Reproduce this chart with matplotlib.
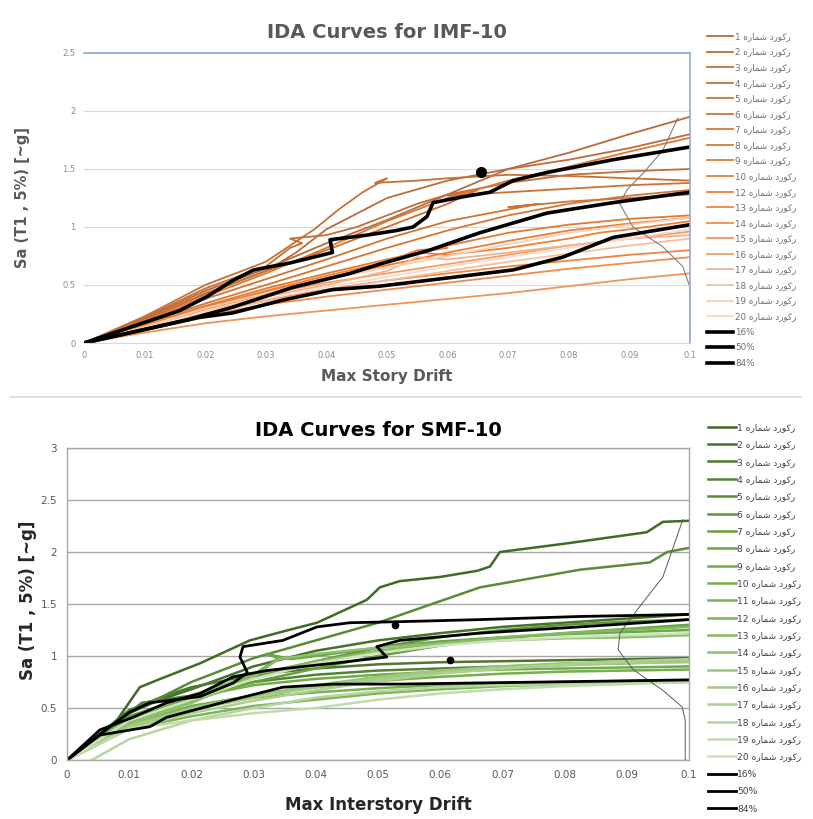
import matplotlib
matplotlib.use("Agg")
import matplotlib.pyplot as plt
from matplotlib.lines import Line2D

# Persian legend text "رکورد شماره" written as shaped glyphs in visual order
fa = "\uFEE9\uFEAD\uFE8E\uFEE4\uFEB7 \uFEA9\uFEAD\uFEEE\uFB90\uFEAD"

# ---------------- IMF-10 (top) ----------------
imf_ids = [1, 2, 3, 4, 5, 6, 7, 8, 9, 10, 12, 13, 14, 15, 16, 17, 18, 19, 20]
imf_colors = ["#B9693A", "#BD6B38", "#C26E37", "#C77035", "#CC7234", "#D17433", "#D67632",
              "#DB7831", "#E07A30", "#ED7D31", "#EE8036", "#EF843C", "#F08C48", "#F19456",
              "#F29E66", "#F4B28A", "#F6C0A0", "#F8CDB5", "#F9D9C8"]
xs = [0, 0.01, 0.02, 0.03, 0.04, 0.05, 0.06, 0.07, 0.08, 0.09, 0.1]
imf_drift = [
    xs,
    [0, 0.01, 0.02, 0.03, 0.035, 0.04, 0.05, 0.06, 0.07, 0.08, 0.09, 0.1],
    [0, 0.01, 0.02, 0.03, 0.034, 0.036, 0.034, 0.04, 0.045, 0.05, 0.055, 0.06, 0.07, 0.08, 0.09, 0.1],
    [0, 0.01, 0.02, 0.03, 0.038, 0.042, 0.046, 0.05, 0.048, 0.055, 0.06, 0.07, 0.08, 0.09, 0.1],
    [0, 0.01, 0.02, 0.03, 0.04, 0.05, 0.06, 0.065, 0.06, 0.07, 0.08, 0.09, 0.1],
    [0, 0.01, 0.02, 0.03, 0.04, 0.05, 0.06, 0.07, 0.075, 0.07, 0.08, 0.09, 0.1],
    xs, xs, xs, xs,
    [0, 0.01, 0.02, 0.03, 0.04, 0.05, 0.055, 0.06, 0.055, 0.06, 0.07, 0.08, 0.085, 0.09, 0.1],
    xs, xs, xs, xs,
    [0, 0.01, 0.02, 0.03, 0.04, 0.05, 0.055, 0.06, 0.07, 0.08, 0.09, 0.1],
    xs, xs, xs,
]
imf_sa = [
    [0, 0.21, 0.45, 0.64, 0.86, 1.06, 1.28, 1.5, 1.64, 1.8, 1.95],
    [0, 0.2, 0.42, 0.62, 0.78, 0.98, 1.25, 1.4, 1.5, 1.58, 1.68, 1.8],
    [0, 0.22, 0.47, 0.66, 0.82, 0.86, 0.9, 0.93, 1.0, 1.1, 1.2, 1.28, 1.38, 1.45, 1.48, 1.5],
    [0, 0.23, 0.5, 0.7, 0.98, 1.15, 1.3, 1.42, 1.38, 1.4, 1.42, 1.45, 1.44, 1.42, 1.4],
    [0, 0.2, 0.43, 0.62, 0.8, 1.0, 1.2, 1.32, 1.27, 1.3, 1.33, 1.36, 1.38],
    [0, 0.18, 0.38, 0.55, 0.72, 0.9, 1.05, 1.15, 1.2, 1.17, 1.22, 1.25, 1.28],
    [0, 0.17, 0.34, 0.5, 0.66, 0.82, 0.97, 1.1, 1.2, 1.27, 1.32],
    [0, 0.19, 0.4, 0.6, 0.82, 1.05, 1.25, 1.4, 1.52, 1.65, 1.77],
    [0, 0.16, 0.32, 0.47, 0.6, 0.72, 0.84, 0.95, 1.02, 1.07, 1.1],
    [0, 0.15, 0.3, 0.44, 0.56, 0.67, 0.78, 0.88, 0.97, 1.03, 1.08],
    [0, 0.16, 0.31, 0.45, 0.58, 0.7, 0.8, 0.82, 0.78, 0.76, 0.82, 0.9, 0.95, 0.98, 1.05],
    [0, 0.13, 0.26, 0.37, 0.46, 0.54, 0.6, 0.66, 0.71, 0.76, 0.8],
    [0, 0.12, 0.24, 0.33, 0.4, 0.46, 0.52, 0.58, 0.64, 0.69, 0.74],
    [0, 0.09, 0.17, 0.23, 0.28, 0.33, 0.38, 0.43, 0.49, 0.55, 0.6],
    [0, 0.14, 0.29, 0.42, 0.52, 0.6, 0.68, 0.76, 0.84, 0.9, 0.96],
    [0, 0.13, 0.27, 0.4, 0.5, 0.62, 0.74, 0.72, 0.78, 0.84, 0.9, 0.93],
    [0, 0.12, 0.25, 0.36, 0.45, 0.54, 0.62, 0.7, 0.77, 0.84, 0.9],
    [0, 0.14, 0.3, 0.43, 0.55, 0.65, 0.75, 0.85, 0.95, 1.02, 1.08],
    [0, 0.13, 0.27, 0.38, 0.48, 0.57, 0.66, 0.74, 0.82, 0.9, 0.98],
]
imf_16_x = [0, 0.019, 0.0246, 0.0328, 0.041, 0.0488, 0.0599, 0.0708, 0.079, 0.0873, 0.1]
imf_16_y = [0, 0.22, 0.26, 0.37, 0.46, 0.49, 0.56, 0.63, 0.74, 0.91, 1.02]
imf_50_x = [0, 0.017, 0.0246, 0.0345, 0.0439, 0.0488, 0.057, 0.0653, 0.0764, 0.0873, 0.1]
imf_50_y = [0, 0.2, 0.31, 0.48, 0.6, 0.68, 0.8, 0.95, 1.12, 1.21, 1.3]
imf_84_x = [0, 0.0158, 0.0203, 0.0246, 0.028, 0.034, 0.041, 0.0406, 0.0467, 0.0516, 0.0543,
            0.0566, 0.0576, 0.0625, 0.067, 0.0708, 0.0764, 0.0873, 0.1]
imf_84_y = [0, 0.28, 0.4, 0.54, 0.63, 0.69, 0.78, 0.89, 0.93, 0.97, 1.0, 1.09, 1.21, 1.26,
            1.3, 1.4, 1.47, 1.58, 1.69]
imf_dot = (0.0655, 1.47)
imf_pdf_x = [0.1, 0.1, 0.0988, 0.0955, 0.0906, 0.0884, 0.0896, 0.0922, 0.0955, 0.098]
imf_pdf_y = [0, 0.48, 0.66, 0.83, 1.0, 1.2, 1.32, 1.46, 1.66, 1.94]

# ---------------- SMF-10 (bottom) ----------------
smf_ids = list(range(1, 21))
smf_colors = ["#3F6B24", "#46722A", "#4C792E", "#548235", "#5A8C38", "#60963B", "#66A03F",
              "#6BA742", "#70AD47", "#74B04C", "#78B251", "#7DB557", "#83B95F", "#8FC06D",
              "#9AC67B", "#A4CB87", "#ADD092", "#B7D69E", "#C1DCAB", "#CCE2B9"]
smf_drift = [
    [0, 0.005, 0.008, 0.0117, 0.015, 0.0214, 0.0294, 0.035, 0.0402, 0.0482, 0.0503, 0.0535, 0.06,
     0.066, 0.068, 0.0696, 0.08, 0.0932, 0.0958, 0.1],
    [0, 0.01, 0.015, 0.02, 0.03, 0.04, 0.05, 0.06, 0.07, 0.08, 0.09, 0.1],
    [0, 0.01, 0.015, 0.02, 0.03, 0.04, 0.05, 0.06, 0.07, 0.08, 0.09, 0.1],
    [0, 0.008, 0.012, 0.02, 0.03, 0.04, 0.05, 0.06, 0.07, 0.08, 0.09, 0.1],
    [0, 0.01, 0.02, 0.03, 0.04, 0.05, 0.0664, 0.0825, 0.0937, 0.0965, 0.1],
    xs, xs,
    [0, 0.01, 0.02, 0.03, 0.034, 0.032, 0.036, 0.04, 0.05, 0.06, 0.07, 0.08, 0.09, 0.1],
    [0, 0.01, 0.015, 0.02, 0.025, 0.03, 0.04, 0.05, 0.06, 0.07, 0.08, 0.09, 0.1],
    xs,
    [0, 0.01, 0.016, 0.02, 0.03, 0.04, 0.05, 0.06, 0.07, 0.08, 0.09, 0.1],
    xs, xs,
    [0, 0.01, 0.02, 0.03, 0.034, 0.04, 0.05, 0.06, 0.07, 0.08, 0.09, 0.1],
    xs, xs, xs,
    [0.004, 0.01, 0.02, 0.03, 0.04, 0.05, 0.06, 0.07, 0.08, 0.09, 0.1],
    xs, xs,
]
smf_sa = [
    [0, 0.2, 0.38, 0.7, 0.78, 0.93, 1.15, 1.24, 1.32, 1.54, 1.66, 1.72, 1.76, 1.82, 1.86, 2.0,
     2.08, 2.19, 2.29, 2.3],
    [0, 0.45, 0.58, 0.68, 0.9, 1.05, 1.15, 1.22, 1.28, 1.32, 1.36, 1.4],
    [0, 0.48, 0.6, 0.7, 0.82, 0.88, 0.92, 0.94, 0.95, 0.96, 0.97, 0.98],
    [0, 0.35, 0.55, 0.62, 0.75, 0.82, 0.86, 0.88, 0.9, 0.92, 0.93, 0.95],
    [0, 0.45, 0.75, 0.98, 1.15, 1.32, 1.66, 1.83, 1.9, 2.0, 2.04],
    [0, 0.42, 0.62, 0.8, 0.95, 1.08, 1.18, 1.25, 1.3, 1.33, 1.35],
    [0, 0.4, 0.6, 0.75, 0.88, 1.0, 1.1, 1.17, 1.22, 1.26, 1.3],
    [0, 0.38, 0.55, 0.82, 0.98, 1.02, 0.97, 1.0, 1.08, 1.14, 1.18, 1.21, 1.23, 1.25],
    [0, 0.36, 0.5, 0.57, 0.66, 0.72, 0.78, 0.82, 0.85, 0.87, 0.88, 0.89, 0.9],
    [0, 0.34, 0.52, 0.62, 0.7, 0.76, 0.8, 0.83, 0.85, 0.86, 0.87],
    [0, 0.3, 0.42, 0.5, 0.6, 0.65, 0.69, 0.72, 0.74, 0.75, 0.76, 0.77],
    [0, 0.3, 0.42, 0.52, 0.58, 0.64, 0.68, 0.71, 0.73, 0.74, 0.75],
    [0, 0.4, 0.62, 0.82, 0.95, 1.05, 1.12, 1.18, 1.22, 1.25, 1.28],
    [0, 0.35, 0.55, 0.8, 0.97, 1.02, 1.08, 1.12, 1.15, 1.17, 1.18, 1.2],
    [0, 0.33, 0.5, 0.62, 0.72, 0.8, 0.86, 0.9, 0.93, 0.95, 0.96],
    [0, 0.32, 0.48, 0.6, 0.7, 0.78, 0.84, 0.88, 0.91, 0.93, 0.94],
    [0, 0.3, 0.45, 0.57, 0.67, 0.76, 0.83, 0.88, 0.92, 0.95, 0.97],
    [0, 0.2, 0.38, 0.5, 0.6, 0.66, 0.7, 0.72, 0.73, 0.74, 0.75],
    [0, 0.3, 0.38, 0.45, 0.5, 0.58, 0.64, 0.68, 0.71, 0.73, 0.75],
    [0, 0.38, 0.58, 0.78, 0.93, 1.03, 1.1, 1.15, 1.18, 1.2, 1.22],
]
smf_16_x = [0, 0.0053, 0.0133, 0.016, 0.0267, 0.0347, 0.0428, 0.0535, 0.1]
smf_16_y = [0, 0.24, 0.32, 0.41, 0.58, 0.7, 0.73, 0.73, 0.77]
smf_50_x = [0, 0.0053, 0.0106, 0.016, 0.0214, 0.0267, 0.0321, 0.0428, 0.0514, 0.0498,
            0.0535, 0.0664, 0.0825, 0.1]
smf_50_y = [0, 0.29, 0.41, 0.55, 0.64, 0.8, 0.86, 0.93, 0.99, 1.09, 1.15, 1.22, 1.28, 1.35]
smf_84_x = [0, 0.0069, 0.0101, 0.0133, 0.0214, 0.0267, 0.029, 0.0278, 0.0283, 0.0347,
            0.0402, 0.0455, 0.0535, 0.0664, 0.0825, 0.1]
smf_84_y = [0, 0.32, 0.46, 0.55, 0.61, 0.74, 0.84, 0.99, 1.09, 1.15, 1.28, 1.32, 1.33,
            1.35, 1.38, 1.4]
smf_dots_x = [0.0527, 0.0616]
smf_dots_y = [1.3, 0.96]
smf_pdf_x = [0.0994, 0.0994, 0.0989, 0.0958, 0.091, 0.0886, 0.0889, 0.092, 0.0958, 0.099]
smf_pdf_y = [0, 0.38, 0.51, 0.67, 0.87, 1.06, 1.22, 1.47, 1.76, 2.31]

xticks = [0, 0.01, 0.02, 0.03, 0.04, 0.05, 0.06, 0.07, 0.08, 0.09, 0.1]
xtick_labels = ["0", "0.01", "0.02", "0.03", "0.04", "0.05", "0.06", "0.07", "0.08", "0.09", "0.1"]
imf_yticks = [0, 0.5, 1, 1.5, 2, 2.5]
imf_ylabels = ["0", "0.5", "1", "1.5", "2", "2.5"]
smf_yticks = [0, 0.5, 1, 1.5, 2, 2.5, 3]
smf_ylabels = ["0", "0.5", "1", "1.5", "2", "2.5", "3"]
pct_labels = ["16%", "50%", "84%"]

W, H = 813, 819
fig = plt.figure(figsize=(W / 100, H / 100), dpi=100)


def fx(px):
    return px / W


def fy(py):
    return 1 - py / H


# ================================
# Top chart
# ================================
ax1 = fig.add_axes([fx(84), fy(343), fx(690) - fx(84), fy(53) - fy(343)])
for i, rid in enumerate(imf_ids):
    ax1.plot(imf_drift[i], imf_sa[i], color=imf_colors[i], lw=1.3,
             label=f"{rid} {fa}")
ax1.plot(imf_pdf_x, imf_pdf_y, color="#7F7F7F", lw=0.8)
for cx, cy, lab in [(imf_16_x, imf_16_y, pct_labels[0]),
                    (imf_50_x, imf_50_y, pct_labels[1]),
                    (imf_84_x, imf_84_y, pct_labels[2])]:
    ax1.plot(cx, cy, color="black", lw=2.6, label=lab)
ax1.plot([imf_dot[0]], [imf_dot[1]], "o", color="black", ms=7)

ax1.set_xlim(0, 0.1)
ax1.set_ylim(0, 2.5)
ax1.set_xticks(xticks)
ax1.set_xticklabels(xtick_labels)
ax1.set_yticks(imf_yticks)
ax1.set_yticklabels(imf_ylabels)
ax1.tick_params(length=0, labelsize=6, labelcolor="#8C8C8C", pad=6)
ax1.grid(axis="y", color="#D9D9D9", lw=0.8)
ax1.set_axisbelow(True)
ax1.spines["left"].set_visible(False)
ax1.spines["bottom"].set_color("#D9D9D9")
ax1.spines["top"].set_color("#8FAADC")
ax1.spines["right"].set_color("#8FAADC")
ax1.spines["top"].set_linewidth(1.2)
ax1.spines["right"].set_linewidth(1.2)

fig.text(fx(387), fy(33), "IDA Curves for IMF-10", ha="center", va="center",
         fontsize=14, fontweight="bold", color="#595959")
fig.text(fx(387), fy(377), "Max Story Drift", ha="center", va="center",
         fontsize=11, fontweight="bold", color="#595959")
fig.text(fx(22), fy(198), "Sa (T1 , 5%) [~g]", ha="center", va="center", rotation=90,
         fontsize=10.5, fontweight="bold", color="#595959")

leg1 = ax1.legend(loc="upper left", bbox_to_anchor=(fx(707), fy(32)),
                  bbox_transform=fig.transFigure, frameon=False, fontsize=6.3,
                  handlelength=3.0, handletextpad=0.2, labelspacing=0.75,
                  borderpad=0, borderaxespad=0)
for t in leg1.get_texts():
    t.set_color("#6E6E6E")

# separator
fig.add_artist(Line2D([0.012, 0.985], [fy(397), fy(397)], color="#D9D9D9", lw=1.2))

# ================================
# Bottom chart
# ================================
ax2 = fig.add_axes([fx(67), fy(760), fx(689) - fx(67), fy(448) - fy(760)])
for i, rid in enumerate(smf_ids):
    ax2.plot(smf_drift[i], smf_sa[i], color=smf_colors[i], lw=1.8,
             label=f"{rid} {fa}")
ax2.plot(smf_pdf_x, smf_pdf_y, color="#595959", lw=0.7)
for cx, cy, lab in [(smf_16_x, smf_16_y, pct_labels[0]),
                    (smf_50_x, smf_50_y, pct_labels[1]),
                    (smf_84_x, smf_84_y, pct_labels[2])]:
    ax2.plot(cx, cy, color="black", lw=2.0, label=lab)
ax2.plot(smf_dots_x, smf_dots_y, "o", color="black", ms=4.5)

ax2.set_xlim(0, 0.1)
ax2.set_ylim(0, 3)
ax2.set_xticks(xticks)
ax2.set_xticklabels(xtick_labels)
ax2.set_yticks(smf_yticks)
ax2.set_yticklabels(smf_ylabels)
ax2.tick_params(length=0, labelsize=7.5, labelcolor="#595959", pad=7)
ax2.grid(axis="y", color="#A6A6A6", lw=1.0)
ax2.set_axisbelow(True)
for s in ax2.spines.values():
    s.set_color("#A6A6A6")
    s.set_linewidth(1.0)

fig.text(fx(378), fy(431), "IDA Curves for SMF-10", ha="center", va="center",
         fontsize=14, fontweight="bold", color="black")
fig.text(fx(378), fy(805), "Max Interstory Drift", ha="center", va="center",
         fontsize=12, fontweight="bold", color="#262626")
fig.text(fx(28), fy(600), "Sa (T1 , 5%) [~g]", ha="center", va="center", rotation=90,
         fontsize=12, fontweight="bold", color="#262626")

leg2 = ax2.legend(loc="upper left", bbox_to_anchor=(fx(708), fy(423)),
                  bbox_transform=fig.transFigure, frameon=False, fontsize=6.6,
                  handlelength=3.0, handletextpad=0.2, labelspacing=0.91,
                  borderpad=0, borderaxespad=0)
for t in leg2.get_texts():
    t.set_color("#404040")

fig.savefig("out.png", dpi=100)
